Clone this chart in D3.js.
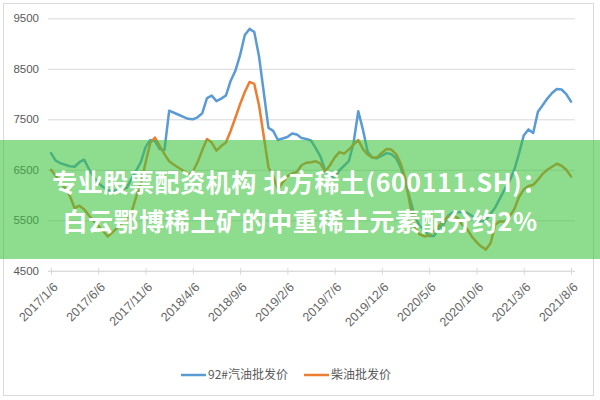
<!DOCTYPE html>
<html>
<head>
<meta charset="utf-8">
<script src="https://cdn.jsdelivr.net/npm/d3@7/dist/d3.min.js"></script>
<style>
  html, body { margin: 0; padding: 0; background: #ffffff; }
  svg { display: block; font-family: "Noto Sans CJK SC", "Noto Sans", sans-serif; }
</style>
</head>
<body>
<svg id="chart" width="600" height="400"></svg>
<script>
// Axis labels every fifth month (one label per 10 samples)
const tickLabels = ["2017/1/6", "2017/6/6", "2017/11/6", "2018/4/6", "2018/9/6", "2019/2/6",
                    "2019/7/6", "2019/12/6", "2020/5/6", "2020/10/6", "2021/3/6", "2021/8/6"];
const yTicks = [4500, 5500, 6500, 7500, 8500, 9500];
const seriesNames = ["92#汽油批发价", "柴油批发价"];

// 92# gasoline wholesale price, half-monthly samples
const gasoline = [
  6830, 6680, 6630, 6600, 6570, 6560, 6650, 6700, 6520, 6360,
  6240, 6160, 6100, 6080, 6100, 6120, 6140, 6320, 6480, 6650,
  6950, 7090, 7070, 6910, 6890, 7670, 7630, 7590, 7550, 7510,
  7500, 7540, 7620, 7920, 7970, 7860, 7910, 7970, 8260, 8460,
  8770, 9170, 9290, 9230, 8750, 8040, 7330, 7270, 7090, 7120,
  7150, 7220, 7200, 7130, 7110, 7080, 6930, 6760, 6490, 6370,
  6340, 6490, 6580, 6670, 7030, 7660, 7290, 6850, 6740, 6730,
  6780, 6830, 6810, 6730, 6540, 6220, 5900, 5570, 5390, 5310,
  5190, 5190, 5330, 5410, 5590, 5660, 5660, 5660, 5650, 5590,
  5520, 5470, 5500, 5630, 5760, 5940, 6120, 6280, 6500, 6820,
  7180, 7300, 7230, 7650, 7780, 7910, 8020, 8100, 8090, 8000,
  7850
];

// Diesel wholesale price, same sample dates
const diesel = [
  6500, 6380, 6250, 6140, 5980, 5740, 5790, 5720, 5600, 5490,
  5390, 5290, 5180, 5260, 5350, 5450, 5500, 5650, 5960, 6220,
  6640, 7030, 7140, 6970, 6810, 6670, 6600, 6540, 6480, 6400,
  6460, 6650, 6890, 7110, 7040, 6880, 6970, 7040, 7270, 7530,
  7800, 8040, 8240, 8200, 7780, 7170, 6550, 6380, 6100, 6250,
  6370, 6430, 6460, 6590, 6640, 6650, 6670, 6620, 6460, 6590,
  6740, 6850, 6820, 6900, 7000, 7090, 6910, 6800, 6740, 6750,
  6840, 6910, 6900, 6810, 6620, 6310, 5780, 5350, 5220, 5180,
  5200, 5290, 5380, 5490, 5570, 5600, 5550, 5410, 5330, 5180,
  5070, 4980, 4920, 5050, 5420, 5480, 5470, 5580, 5720, 5960,
  6110, 6180, 6200, 6300, 6420, 6500, 6560, 6620, 6580, 6500,
  6370
];

const colors = ["#5b9bd5", "#ed7d31"];
const svg = d3.select("#chart");

// Chart frame
svg.append("rect")
  .attr("x", 3.5).attr("y", 3.5).attr("width", 590).attr("height", 392)
  .attr("fill", "#ffffff").attr("stroke", "#d9d9d9").attr("stroke-width", 1);

const x = d3.scaleLinear().domain([0, gasoline.length - 1]).range([51, 571]);
const y = d3.scaleLinear().domain([4500, 9500]).range([270.8, 18.3]);

// Horizontal gridlines and value labels
const yAxis = svg.append("g").attr("transform", "translate(48,0)")
  .call(d3.axisLeft(y).tickValues(yTicks).tickSize(-527).tickPadding(9).tickFormat(d3.format("d")));
yAxis.select(".domain").remove();
yAxis.selectAll(".tick line").attr("stroke", "#d9d9d9").attr("stroke-width", 1);
yAxis.selectAll(".tick text").attr("fill", "#595959").style("font-size", "11.5px")
  .style("font-family", "'Liberation Sans', Arial, sans-serif");

// Category axis along the bottom
const tickIdx = tickLabels.map((_, i) => i * 10);
const xAxis = svg.append("g").attr("transform", `translate(0,${y(4500)})`)
  .call(d3.axisBottom(x).tickValues(tickIdx).tickSize(5).tickFormat((d, i) => tickLabels[i]));
xAxis.select(".domain").attr("d", "M48,0.5H575").attr("stroke", "#d9d9d9");
xAxis.selectAll(".tick line").attr("stroke", "#d9d9d9").attr("y1", -3).attr("y2", 4);
xAxis.selectAll(".tick text")
  .attr("fill", "#666666").style("font-size", "12.5px")
  .style("font-family", "'Liberation Sans', Arial, sans-serif")
  .attr("text-anchor", "end")
  .attr("dy", "0.35em")
  .attr("transform", "translate(4,14) rotate(-45)")
  .attr("x", 0).attr("y", 0);

// Price lines
const line = d3.line().x((d, i) => x(i)).y(d => y(d)).curve(d3.curveLinear);
[gasoline, diesel].forEach((s, k) => {
  svg.append("path")
    .datum(s)
    .attr("fill", "none")
    .attr("stroke", colors[k])
    .attr("stroke-width", 2.5)
    .attr("stroke-linejoin", "round")
    .attr("stroke-linecap", "round")
    .attr("d", line);
});

// Legend
const legendPos = [{lx: 181, tx: 208}, {lx: 304, tx: 331}];
seriesNames.forEach((name, k) => {
  const g = svg.append("g");
  g.append("line")
    .attr("x1", legendPos[k].lx).attr("x2", legendPos[k].lx + 25)
    .attr("y1", 375).attr("y2", 375)
    .attr("stroke", colors[k]).attr("stroke-width", 2.5);
  g.append("text")
    .attr("x", legendPos[k].tx).attr("y", 375).attr("dy", "0.35em")
    .attr("fill", "#595959").style("font-size", "12px")
    .text(name);
});

// Headline banner
svg.append("rect")
  .attr("x", 0).attr("y", 140).attr("width", 600).attr("height", 119)
  .attr("fill", "rgb(60,195,60)").attr("fill-opacity", 0.58);

const headline = ["专业股票配资机构 北方稀土(600111.SH)：", "白云鄂博稀土矿的中重稀土元素配分约2%"];
svg.append("g").selectAll("text")
  .data(headline)
  .join("text")
  .attr("x", 300)
  .attr("y", (d, i) => 192 + i * 39)
  .attr("text-anchor", "middle")
  .attr("fill", "#ffffff")
  .style("font-size", "25px")
  .style("font-weight", "bold")
  .style("letter-spacing", "0.6px")
  .text(d => d);
</script>
</body>
</html>
